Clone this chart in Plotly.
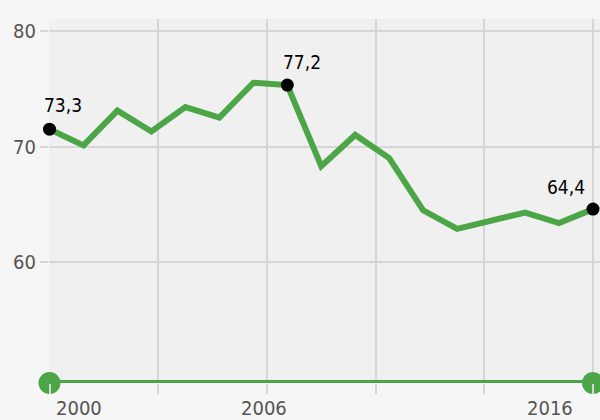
import plotly.graph_objects as go

years = list(range(2000, 2017))
values = [71.5, 70.1, 73.1, 71.3, 73.4, 72.5, 75.5, 75.3, 68.3, 71.0, 69.0,
          64.5, 62.9, 63.6, 64.3, 63.4, 64.6]
label_idx = [0, 7, 16]
label_text = ["73,3", "77,2", "64,4"]
year_labels = ["2000", "2006", "2016"]
year_label_pos = [2000, 2006, 2016]
y_ticks = [60, 70, 80]

GREEN = "#4ca547"
GRID = "#d6d6d6"
FONT = "Liberation Sans Narrow, DejaVu Sans Condensed, Roboto Condensed, Arial Narrow, sans-serif"

y_min, y_max = 49.6, 81.0

fig = go.Figure()

# bottom timeline bar
fig.add_trace(go.Scatter(
    x=[years[0], years[-1]], y=[y_min, y_min], mode="lines+markers",
    line=dict(color=GREEN, width=6), marker=dict(color=GREEN, size=22),
    cliponaxis=False, hoverinfo="skip", showlegend=False))

# main line
fig.add_trace(go.Scatter(
    x=years, y=values, mode="lines",
    line=dict(color=GREEN, width=6), showlegend=False, cliponaxis=False))

# highlighted points
fig.add_trace(go.Scatter(
    x=[years[i] for i in label_idx], y=[values[i] for i in label_idx],
    mode="markers", marker=dict(color="black", size=13),
    showlegend=False, cliponaxis=False))

anchors = ["left", "left", "right"]
xshifts = [-8, -6, -6]
yshifts = [11, 10, 9]
for i, t, a, xs, ys in zip(label_idx, label_text, anchors, xshifts, yshifts):
    fig.add_annotation(x=years[i], y=values[i], text=t, showarrow=False,
                       xanchor=a, yanchor="bottom", xshift=xs, yshift=ys,
                       font=dict(family=FONT, size=19, color="black"))

ya = ["left", "center", "right"]
yxs = [4, 11, -18]
for t, p, a, xs in zip(year_labels, year_label_pos, ya, yxs):
    fig.add_annotation(x=p, y=0, yref="paper", text=t, showarrow=False,
                       xanchor=a, yanchor="top", xshift=xs, yshift=-11,
                       font=dict(family=FONT, size=20, color="#555555"))

fig.update_layout(
    width=600, height=420,
    margin=dict(l=49, r=0, t=19, b=37),
    paper_bgcolor="#f6f6f6", plot_bgcolor="#f0f0f0",
    xaxis=dict(range=[1999.985, 2016.206], tick0=2000, dtick=3.2,
               showgrid=True, gridcolor=GRID, gridwidth=2,
               showticklabels=False, ticks="outside", ticklen=10,
               tickcolor=GRID, tickwidth=2, zeroline=False, showline=False),
    yaxis=dict(range=[y_min, y_max], tickvals=y_ticks,
               showgrid=True, gridcolor=GRID, gridwidth=2,
               ticks="outside", ticklen=8, tickcolor=GRID, tickwidth=2,
               tickfont=dict(family=FONT, size=20, color="#555555"),
               zeroline=False, showline=False),
)

fig.write_html("out.html", config={"displayModeBar": False},
               post_script="document.body.style.margin='0';document.body.style.overflow='hidden';")
